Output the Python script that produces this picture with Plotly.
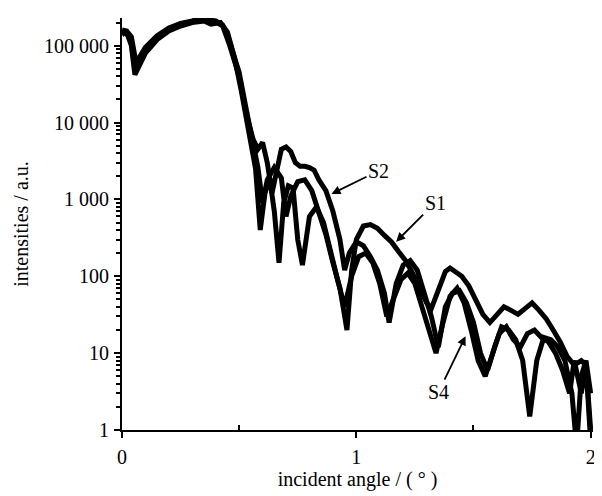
import math
import plotly.graph_objects as go

# ---- data ----
s1_x = [0, 0.02, 0.04, 0.06, 0.1, 0.15, 0.2, 0.25, 0.3, 0.35, 0.4, 0.43, 0.46, 0.5, 0.53, 0.56, 0.58, 0.6,
        0.62, 0.65, 0.68, 0.7, 0.72, 0.75, 0.78, 0.81, 0.84, 0.87, 0.9, 0.93, 0.96, 0.98, 1.0, 1.03, 1.06,
        1.09, 1.12, 1.15, 1.18, 1.21, 1.24, 1.27, 1.3, 1.32, 1.35, 1.38, 1.4, 1.42, 1.45, 1.48, 1.51, 1.54,
        1.57, 1.6, 1.63, 1.66, 1.69, 1.72, 1.75, 1.78, 1.81, 1.84, 1.87, 1.9, 1.93, 1.96, 1.98, 2.0]
s1_y = [160000, 155000, 130000, 60000, 95000, 135000, 170000, 195000, 210000, 220000, 210000, 185000, 110000,
        45000, 15000, 5000, 2600, 900, 1800, 2600, 1900, 600, 1100, 1700, 1800, 1300, 700, 350, 150, 70, 20,
        120, 300, 450, 470, 420, 340, 280, 210, 160, 110, 70, 45, 38, 70, 115, 128, 115, 100, 75, 50, 32,
        25, 32, 40, 36, 32, 38, 45, 36, 28, 20, 14, 9, 7, 8, 7, 1]

s2_x = [0, 0.02, 0.04, 0.055, 0.1, 0.15, 0.2, 0.25, 0.3, 0.33, 0.36, 0.4, 0.43, 0.46, 0.5, 0.53, 0.56, 0.58,
        0.6, 0.62, 0.64, 0.66, 0.68, 0.7, 0.72, 0.74, 0.76, 0.78, 0.8, 0.82, 0.84, 0.87, 0.9, 0.93, 0.95,
        0.97, 1.0, 1.03, 1.06, 1.09, 1.12, 1.14, 1.17, 1.2, 1.23, 1.26, 1.29, 1.32, 1.35, 1.38, 1.41, 1.44,
        1.47, 1.5, 1.53, 1.56, 1.59, 1.62, 1.65, 1.68, 1.71, 1.74, 1.77, 1.8, 1.83, 1.86, 1.89, 1.92, 1.94,
        1.96, 1.98, 2.0]
s2_y = [150000, 145000, 110000, 48000, 90000, 130000, 165000, 190000, 205000, 235000, 215000, 205000, 180000,
        100000, 40000, 13000, 6000, 4500, 5500, 3000, 1200, 2500, 4500, 4800, 4200, 3000, 2700, 2700, 2600,
        2400, 1800, 1300, 700, 300, 120, 200, 280, 250, 180, 120, 60, 25, 80, 140, 160, 120, 60, 30, 12, 40,
        60, 65, 45, 25, 10, 6, 12, 22, 20, 15, 8, 1.5, 8, 16, 15, 12, 8, 3, 0.6, 5, 8, 3]

s4_x = [0, 0.02, 0.04, 0.055, 0.1, 0.15, 0.2, 0.25, 0.3, 0.35, 0.38, 0.42, 0.45, 0.48, 0.51, 0.54, 0.57,
        0.59, 0.61, 0.63, 0.65, 0.67, 0.69, 0.71, 0.73, 0.75, 0.77, 0.8, 0.83, 0.86, 0.89, 0.92, 0.95, 0.98,
        1.01, 1.04, 1.07, 1.1, 1.13, 1.16, 1.19, 1.22, 1.25, 1.28, 1.31, 1.34, 1.37, 1.4, 1.43, 1.46, 1.49,
        1.52, 1.55, 1.58, 1.61, 1.64, 1.67, 1.7, 1.73, 1.76, 1.79, 1.82, 1.85, 1.88, 1.91, 1.93, 1.96, 1.98, 2.0]
s4_y = [140000, 150000, 100000, 42000, 80000, 120000, 155000, 180000, 200000, 210000, 190000, 200000, 150000,
        70000, 25000, 8000, 2500, 400, 1200, 1900, 700, 150, 900, 1500, 1400, 300, 140, 600, 800, 500, 200,
        90, 40, 100, 180, 200, 150, 80, 30, 50, 90, 110, 80, 40, 20, 10, 25, 55, 70, 45, 20, 8, 5, 10, 18,
        22, 15, 12, 18, 20, 16, 14, 10, 6, 3, 8, 3, 7, 0.7]

y_tickvals = [1, 10, 100, 1000, 10000, 100000]
y_ticktext = ["1", "10", "100", "1 000", "10 000", "100 000"]
x_tickvals = [0, 1, 2]
x_ticktext = ["0", "1", "2"]

labels = ["S2", "S1", "S4"]
label_x = [0.894, 1.17, 1.466]
label_y = [1180, 282, 16.6]
label_ax = [47, 39, -27]
label_ay = [-23, -39, 56]

FONT = "Liberation Serif"

fig = go.Figure()
for xs, ys in [(s1_x, s1_y), (s2_x, s2_y), (s4_x, s4_y)]:
    fig.add_trace(go.Scatter(x=xs, y=ys, mode="lines",
                             line=dict(color="black", width=5), showlegend=False))

for t, xx, yy, ax, ay in zip(labels, label_x, label_y, label_ax, label_ay):
    fig.add_annotation(x=xx, y=math.log10(yy), yref="y", xref="x", text=t, showarrow=True,
                       ax=ax, ay=ay, arrowhead=2, arrowsize=1, arrowwidth=1.8,
                       arrowcolor="black", font=dict(family=FONT, size=20, color="black"))

# page body has an 8px margin, so the figure is sized to fit inside the window
fig.update_layout(
    width=594, height=488,
    margin=dict(l=114, r=6, t=10, b=66),
    paper_bgcolor="white", plot_bgcolor="white",
    font=dict(family=FONT, size=20, color="black"),
)
fig.update_xaxes(
    range=[0, 2.01], showgrid=False, zeroline=False,
    showline=True, linecolor="black", linewidth=2,
    tickvals=x_tickvals, ticktext=x_ticktext,
    ticks="outside", ticklen=6, tickwidth=2, tickcolor="black",
    ticklabelstandoff=2,
    minor=dict(tickvals=[0.5, 1.5], ticks="inside", ticklen=5, tickwidth=2, tickcolor="black"),
    title=dict(text="incident angle / ( ° )", standoff=2, font=dict(family=FONT, size=20)),
)
fig.update_yaxes(
    type="log", range=[0, 5.36], showgrid=False, zeroline=False,
    showline=True, linecolor="black", linewidth=2,
    tickvals=y_tickvals, ticktext=y_ticktext,
    ticks="outside", ticklen=6, tickwidth=2, tickcolor="black",
    ticklabelstandoff=1,
    minor=dict(ticks="outside", ticklen=4, tickwidth=1.5, tickcolor="black", dtick="D1"),
    title=dict(text="intensities / a.u.", standoff=10, font=dict(family=FONT, size=20)),
)

fig.write_html("out.html")
